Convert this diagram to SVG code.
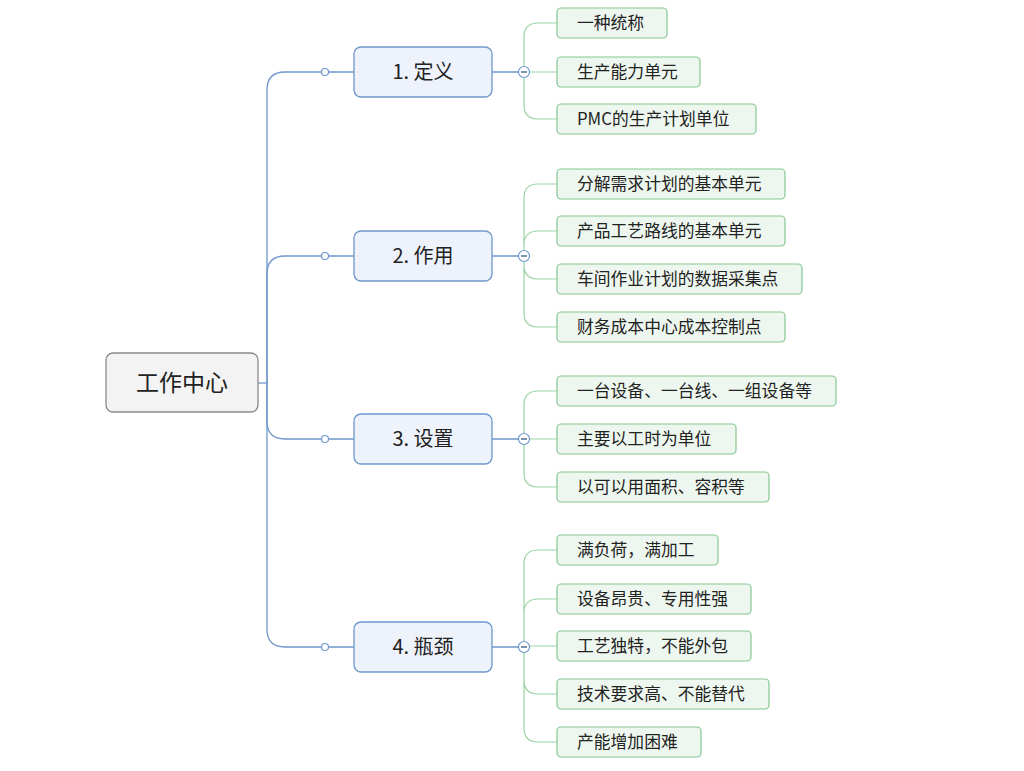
<svg xmlns="http://www.w3.org/2000/svg" width="1024" height="771" viewBox="0 0 1024 771">
<style>
text{font-family:"Noto Sans CJK SC","Noto Sans",sans-serif;fill:#222}
.root rect{fill:#f3f3f3;stroke:#8a8a8a;stroke-width:1.3}
.root text{font-size:23px;text-anchor:middle}
.br rect{fill:#eef3fb;stroke:#6f97cc;stroke-width:1.3}
.br text{font-size:20px;text-anchor:middle}
.lf rect{fill:#eef7ef;stroke:#84c792;stroke-width:1.2}
.lf text{font-size:16.8px}
.b{fill:none;stroke:#6f97cc;stroke-width:1.3}
.g{fill:none;stroke:#9ad3a6;stroke-width:1.2}
.dot{fill:#fff;stroke:#6f97cc;stroke-width:1.2}
.col{fill:#fff;stroke:#6f97cc;stroke-width:1.2}
.minus{stroke:#44638c;stroke-width:1.4}
</style>
<g id="connectors">
<path class="b" d="M258 383H267"/>
<path class="b" d="M267 383V90Q267 72 285 72H354"/>
<path class="b" d="M267 383V274Q267 256 285 256H354"/>
<path class="b" d="M267 383V421Q267 439 285 439H354"/>
<path class="b" d="M267 383V629Q267 647 285 647H354"/>
<path class="b" d="M492 72H519M492 256H519M492 439H519M492 647H519"/>
<circle class="dot" cx="325" cy="72" r="3.5"/><circle class="dot" cx="325" cy="256" r="3.5"/><circle class="dot" cx="325" cy="439" r="3.5"/><circle class="dot" cx="325" cy="647" r="3.5"/>
<path class="g" d="M524 72V37Q524 23 538 23H557M529 72H557M524 72V105Q524 119 538 119H557"/>
<path class="g" d="M524 256V198Q524 184 538 184H557M524 256V245Q524 231 538 231H557M524 256V265Q524 279 538 279H557M524 256V313Q524 327 538 327H557"/>
<path class="g" d="M524 439V405Q524 391 538 391H557M529 439H557M524 439V473Q524 487 538 487H557"/>
<path class="g" d="M524 647V564Q524 550 538 550H557M524 647V613Q524 599 538 599H557M529 646H557M524 647V680Q524 694 538 694H557M524 647V728Q524 742 538 742H557"/>
<g><circle class="col" cx="524" cy="72" r="5.5"/><path class="minus" d="M521 72H527"/></g>
<g><circle class="col" cx="524" cy="256" r="5.5"/><path class="minus" d="M521 256H527"/></g>
<g><circle class="col" cx="524" cy="439" r="5.5"/><path class="minus" d="M521 439H527"/></g>
<g><circle class="col" cx="524" cy="647" r="5.5"/><path class="minus" d="M521 647H527"/></g>
</g>
<g id="root" class="root"><rect x="106" y="353" width="152" height="59" rx="7"/><text x="182" y="391">工作中心</text></g>
<g id="b1" class="br"><rect x="354" y="47" width="138" height="50" rx="7"/><text x="423" y="79">1. 定义</text></g>
<g id="b2" class="br"><rect x="354" y="231" width="138" height="50" rx="7"/><text x="423" y="263">2. 作用</text></g>
<g id="b3" class="br"><rect x="354" y="414" width="138" height="50" rx="7"/><text x="423" y="446">3. 设置</text></g>
<g id="b4" class="br"><rect x="354" y="622" width="138" height="50" rx="7"/><text x="423" y="654">4. 瓶颈</text></g>
<g id="l1" class="lf"><rect x="557" y="8" width="110" height="30" rx="4"/><text x="577" y="29">一种统称</text></g>
<g id="l2" class="lf"><rect x="557" y="57" width="143" height="30" rx="4"/><text x="577" y="78">生产能力单元</text></g>
<g id="l3" class="lf"><rect x="557" y="104" width="199" height="30" rx="4"/><text x="577" y="125">PMC的生产计划单位</text></g>
<g id="l4" class="lf"><rect x="557" y="169" width="228" height="30" rx="4"/><text x="577" y="190">分解需求计划的基本单元</text></g>
<g id="l5" class="lf"><rect x="557" y="216" width="228" height="30" rx="4"/><text x="577" y="237">产品工艺路线的基本单元</text></g>
<g id="l6" class="lf"><rect x="557" y="264" width="245" height="30" rx="4"/><text x="577" y="285">车间作业计划的数据采集点</text></g>
<g id="l7" class="lf"><rect x="557" y="312" width="228" height="30" rx="4"/><text x="577" y="333">财务成本中心成本控制点</text></g>
<g id="l8" class="lf"><rect x="557" y="376" width="279" height="30" rx="4"/><text x="577" y="397">一台设备、一台线、一组设备等</text></g>
<g id="l9" class="lf"><rect x="557" y="424" width="179" height="30" rx="4"/><text x="577" y="445">主要以工时为单位</text></g>
<g id="l10" class="lf"><rect x="557" y="472" width="212" height="30" rx="4"/><text x="577" y="493">以可以用面积、容积等</text></g>
<g id="l11" class="lf"><rect x="557" y="535" width="161" height="30" rx="4"/><text x="577" y="556">满负荷，满加工</text></g>
<g id="l12" class="lf"><rect x="557" y="584" width="194" height="30" rx="4"/><text x="577" y="605">设备昂贵、专用性强</text></g>
<g id="l13" class="lf"><rect x="557" y="631" width="194" height="30" rx="4"/><text x="577" y="652">工艺独特，不能外包</text></g>
<g id="l14" class="lf"><rect x="557" y="679" width="212" height="30" rx="4"/><text x="577" y="700">技术要求高、不能替代</text></g>
<g id="l15" class="lf"><rect x="557" y="727" width="144" height="30" rx="4"/><text x="577" y="748">产能增加困难</text></g>
</svg>
